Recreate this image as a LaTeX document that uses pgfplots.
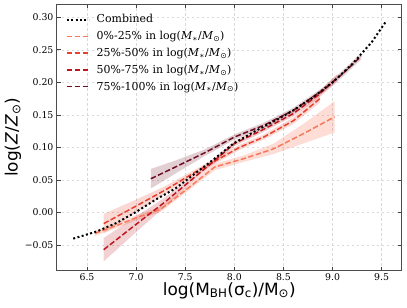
\documentclass[border=0pt]{standalone}
\usepackage{fontspec}
\setmainfont{DejaVu Serif}
\setsansfont{DejaVu Sans}
\newfontfamily\symf{DejaVu Sans}
\usepackage{pgfplots}
\usepackage{pgfplotstable}
\usepgfplotslibrary{fillbetween}
\pgfplotsset{compat=1.18}

\definecolor{cA}{HTML}{F7785A}
\definecolor{cB}{HTML}{E8412F}
\definecolor{cC}{HTML}{C0171F}
\definecolor{cD}{HTML}{6E0F22}

\pgfplotstableread{
x y
6.36 -0.040
6.60 -0.029
6.80 -0.016
7.00 0.001
7.20 0.020
7.40 0.037
7.60 0.060
7.80 0.083
8.00 0.107
8.20 0.124
8.40 0.140
8.60 0.157
8.80 0.177
9.00 0.200
9.20 0.228
9.40 0.262
9.55 0.295
}\comb

\pgfplotstableread{
x y lo hi
6.58 -0.032 -0.036 -0.028
6.80 -0.020 -0.024 -0.016
7.00 -0.008 -0.012 -0.004
7.25 0.005 0.001 0.009
7.50 0.034 0.030 0.038
7.80 0.070 0.065 0.075
8.10 0.083 0.078 0.088
8.40 0.098 0.090 0.106
8.70 0.121 0.106 0.136
9.02 0.147 0.123 0.171
}\sA

\pgfplotstableread{
x y lo hi
6.67 -0.017 -0.032 -0.002
7.00 0.010 0.000 0.020
7.30 0.035 0.029 0.041
7.60 0.062 0.058 0.066
7.85 0.083 0.079 0.087
8.05 0.100 0.096 0.104
8.30 0.116 0.112 0.120
8.60 0.141 0.136 0.146
8.87 0.175 0.169 0.181
}\sB

\pgfplotstableread{
x y lo hi
6.67 -0.057 -0.075 -0.039
7.00 -0.018 -0.030 -0.006
7.30 0.017 0.010 0.024
7.60 0.055 0.051 0.059
7.80 0.080 0.076 0.084
8.00 0.106 0.102 0.110
8.30 0.128 0.124 0.132
8.60 0.152 0.148 0.156
8.85 0.180 0.175 0.185
9.05 0.207 0.201 0.213
}\sC

\pgfplotstableread{
x y lo hi
7.15 0.052 0.037 0.067
7.40 0.070 0.060 0.080
7.70 0.092 0.087 0.097
8.00 0.116 0.112 0.120
8.30 0.134 0.130 0.138
8.60 0.157 0.153 0.161
8.90 0.188 0.184 0.192
9.10 0.213 0.208 0.218
9.29 0.240 0.235 0.245
}\sD

\tikzset{
  dotst/.style={black, line width=2bp, dash pattern=on 2bp off 2.4bp},
  dsh/.style={line width=1.5bp, dash pattern=on 5.5bp off 2.4bp},
}

\begin{document}
\begin{tikzpicture}
\begin{axis}[name=ax,
  scale only axis, width=345bp, height=266.4bp,
  xmin=6.194, xmax=9.704, ymin=-0.089, ymax=0.320,
  xtick={6.5,7,7.5,8,8.5,9,9.5},
  xticklabels={6.5,7.0,7.5,8.0,8.5,9.0,9.5},
  ytick={-0.05,0,0.05,0.10,0.15,0.20,0.25,0.30},
  yticklabels={−0.05,0.00,0.05,0.10,0.15,0.20,0.25,0.30},
  tick align=inside, xtick pos=both, ytick pos=both,
  major tick length=4bp,
  tick style={color=black!75, line width=0.8bp},
  axis line style={black!70, line width=1bp},
  grid=major,
  major grid style={gray!30, dash pattern=on 2.5bp off 2.5bp, line width=0.6bp},
  ticklabel style={font=\fontsize{9.4}{11}\selectfont},
  xlabel={log(M\textsubscript{BH}(σ\textsubscript{c})/M\textsubscript{⊙})},
  ylabel={log(\textit{Z}/\textit{Z}\textsubscript{⊙})},
  every axis x label/.style={at={(rel axis cs:0.5,-0.093)}, anchor=base, font=\sffamily\fontsize{17}{20}\selectfont},
  every axis y label/.style={at={(rel axis cs:-0.1275,0.5)}, anchor=center, rotate=90, font=\sffamily\fontsize{17}{20}\selectfont},
  legend style={at={(rel axis cs:0.022,0.973)}, anchor=north west, draw=none, fill=none,
    font=\fontsize{11}{13}\selectfont, row sep=3bp, inner sep=1bp,
    /tikz/every odd column/.append style={column sep=5bp}},
  legend cell align=left,
  legend image code/.code={\draw[#1] (0bp,0bp) -- (22bp,0bp);},
]
% bands
\addplot[name path=aL, draw=none, forget plot] table[x=x,y=lo]{\sA};
\addplot[name path=aH, draw=none, forget plot] table[x=x,y=hi]{\sA};
\addplot[fill=cA, fill opacity=0.25, draw=none, forget plot] fill between[of=aL and aH];
\addplot[name path=bL, draw=none, forget plot] table[x=x,y=lo]{\sB};
\addplot[name path=bH, draw=none, forget plot] table[x=x,y=hi]{\sB};
\addplot[fill=cB, fill opacity=0.2, draw=none, forget plot] fill between[of=bL and bH];
\addplot[name path=cL, draw=none, forget plot] table[x=x,y=lo]{\sC};
\addplot[name path=cH, draw=none, forget plot] table[x=x,y=hi]{\sC};
\addplot[fill=cC, fill opacity=0.2, draw=none, forget plot] fill between[of=cL and cH];
\addplot[name path=dL, draw=none, forget plot] table[x=x,y=lo]{\sD};
\addplot[name path=dH, draw=none, forget plot] table[x=x,y=hi]{\sD};
\addplot[fill=cD, fill opacity=0.2, draw=none, forget plot] fill between[of=dL and dH];

\addplot[cA, dsh, forget plot] table[x=x,y=y]{\sA};
\addplot[cB, dsh, forget plot] table[x=x,y=y]{\sB};
\addplot[cC, dsh, forget plot] table[x=x,y=y]{\sC};
\addplot[cD, dsh, forget plot] table[x=x,y=y]{\sD};
\addplot[dotst, forget plot] table[x=x,y=y]{\comb};

\addlegendimage{dotst}
\addlegendentry{Combined}
\addlegendimage{cA, dsh}
\addlegendentry{0\%-25\% in log(\textit{M}\textsubscript{∗}/\textit{M}\textsubscript{{\symf ⊙}})}
\addlegendimage{cB, dsh}
\addlegendentry{25\%-50\% in log(\textit{M}\textsubscript{∗}/\textit{M}\textsubscript{{\symf ⊙}})}
\addlegendimage{cC, dsh}
\addlegendentry{50\%-75\% in log(\textit{M}\textsubscript{∗}/\textit{M}\textsubscript{{\symf ⊙}})}
\addlegendimage{cD, dsh}
\addlegendentry{75\%-100\% in log(\textit{M}\textsubscript{∗}/\textit{M}\textsubscript{{\symf ⊙}})}
\end{axis}
\pgfresetboundingbox
\path ([shift={(-57bp,-37.3bp)}]ax.south west) rectangle ([shift={(5.3bp,4.3bp)}]ax.north east);
\end{tikzpicture}
\end{document}
